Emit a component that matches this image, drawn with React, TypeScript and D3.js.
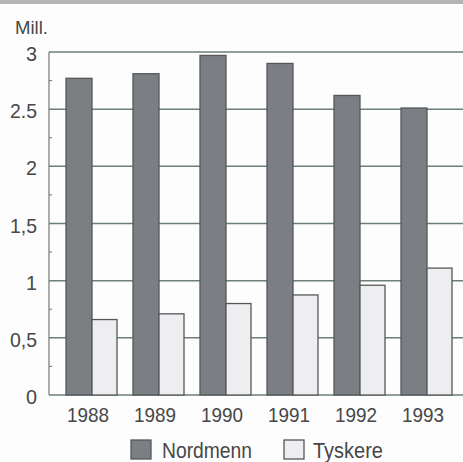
import React from "react";
import * as d3 from "d3";

const years = ["1988", "1989", "1990", "1991", "1992", "1993"];
const nordmenn = [2.77, 2.81, 2.97, 2.9, 2.62, 2.51];
const tyskere = [0.66, 0.71, 0.8, 0.875, 0.96, 1.11];
const yTicks = [0, 0.5, 1, 1.5, 2, 2.5, 3];
const yTickLabels = ["0", "0,5", "1", "1,5", "2", "2.5", "3"];
const seriesNames = ["Nordmenn", "Tyskere"];

const font = "'Liberation Sans', Arial, sans-serif";
const textCol = "#474747";

function T({ x, y, size, anchor = "start", len, children }: any) {
  return (
    <text
      x={x}
      y={y}
      textAnchor={anchor}
      fontFamily={font}
      fontSize={size}
      fill={textCol}
      textLength={len}
      lengthAdjust={len ? "spacingAndGlyphs" : undefined}
    >
      {children}
    </text>
  );
}

export default function App() {
  const W = 463, H = 462;
  const left = 49, right = 463, top = 52, bottom = 395;
  const y = d3.scaleLinear().domain([0, 3]).range([bottom, top]);
  const x = d3.scaleBand().domain(years).range([66, 468]).paddingInner(0).paddingOuter(0);
  const darkW = 26, lightW = 25;
  const minor = d3.range(0.25, 3, 0.5);
  return (
    <svg width={W} height={H} style={{ position: "absolute", left: 0, top: 0, background: "#fdfdfd" }}>
      <rect x={0} y={0} width={W} height={H} fill="#fdfdfd" />
      <rect x={0} y={0} width={W} height={4} fill="#b5b5b5" />
      {yTicks.map((t) => (
        <line key={t} x1={left} x2={right} y1={y(t)} y2={y(t)} stroke="#6c7f78" strokeWidth={1.5} />
      ))}
      <line x1={left} x2={left} y1={y(3)} y2={y(0)} stroke="#777" strokeWidth={1.2} />
      {minor.map((t) => (
        <line key={t} x1={left} x2={left + 3} y1={y(t)} y2={y(t)} stroke="#777" strokeWidth={1} />
      ))}
      {years.map((yr, i) => {
        const x0 = x(yr)!;
        return (
          <g key={yr}>
            <rect x={x0} y={y(nordmenn[i])} width={darkW} height={y(0) - y(nordmenn[i])} fill="#7b7e82" stroke="#55585a" strokeWidth={1.3} />
            <rect x={x0 + darkW} y={y(tyskere[i])} width={lightW} height={y(0) - y(tyskere[i])} fill="#eeeef1" stroke="#55585a" strokeWidth={1.3} />
            <T x={x0 + 22} y={422} size={21} anchor="middle" len={42}>{yr}</T>
          </g>
        );
      })}
      {yTicks.map((t, i) => (
        <T key={t} x={37} y={y(t) + 9} size={21} anchor="end" len={yTickLabels[i].length > 1 ? 27 : 11}>{yTickLabels[i]}</T>
      ))}
      <T x={15} y={34} size={18} len={33}>Mill.</T>
      <rect x={131} y={440} width={20} height={19} fill="#7b7e82" stroke="#55585a" strokeWidth={1.3} />
      <T x={162} y={458} size={22} len={90}>{seriesNames[0]}</T>
      <rect x={284} y={440} width={20} height={19} fill="#eeeef1" stroke="#55585a" strokeWidth={1.3} />
      <T x={313} y={458} size={22} len={70}>{seriesNames[1]}</T>
    </svg>
  );
}
